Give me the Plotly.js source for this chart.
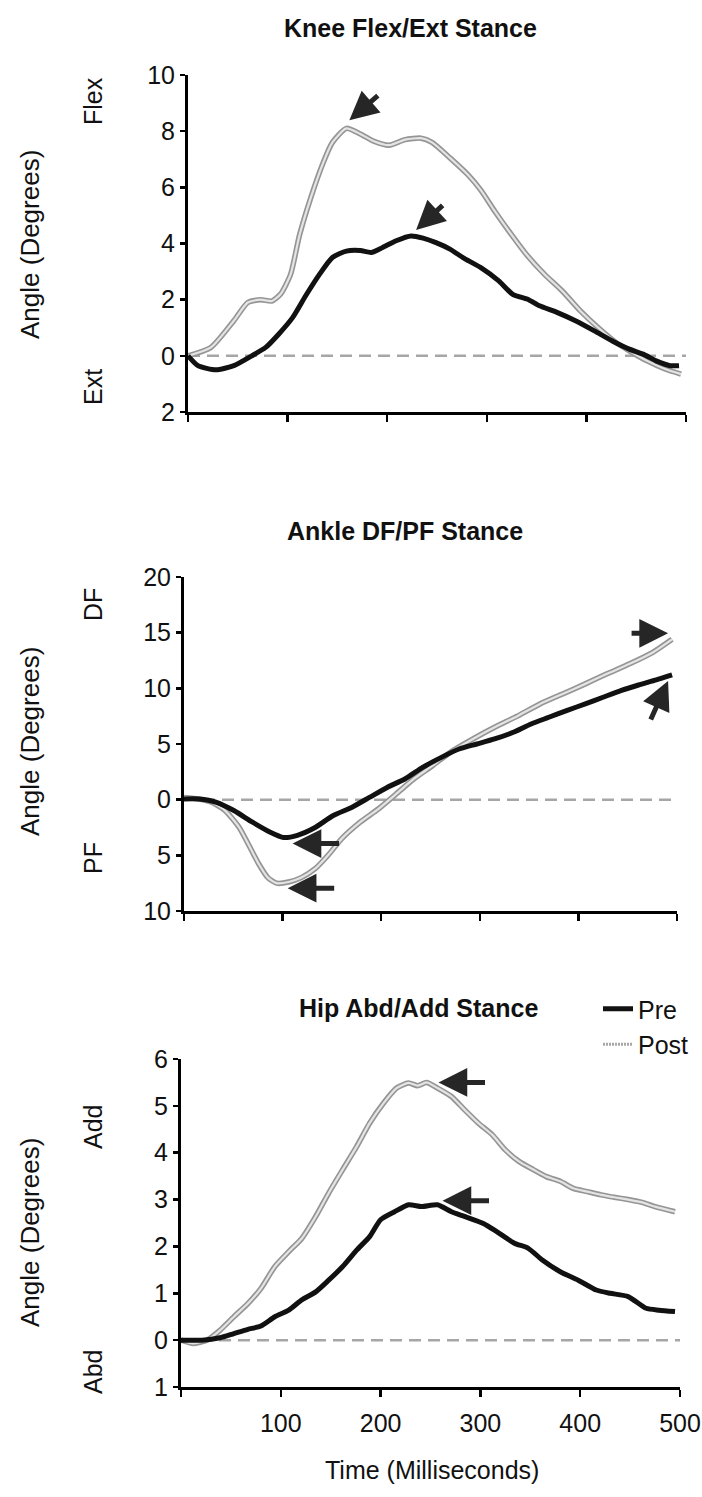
<!DOCTYPE html>
<html>
<head>
<meta charset="utf-8">
<script src="https://cdn.plot.ly/plotly-3.0.1.min.js"></script>
<style>
html,body{margin:0;padding:0;background:#fff;}
#chart{width:702px;height:1497px;}
</style>
</head>
<body>
<div id="chart"></div>
<script>
// ---------- DATA ----------
// Knee Flex/Ext stance (degrees; + = flexion, - = extension)
var kneeTimePre = [0,10,28,46,64,78,91,105,118,132,145,159,173,184,195,209,224,236,249,263,276,294,312,326,342,353,371,389,408,426,443,457,470,484,493];
var kneePre     = [0,-0.35,-0.5,-0.35,0,0.3,0.77,1.36,2.13,2.9,3.5,3.73,3.75,3.68,3.85,4.1,4.27,4.19,4.03,3.8,3.5,3.14,2.67,2.19,2.0,1.78,1.54,1.25,0.89,0.53,0.24,0.06,-0.18,-0.35,-0.35];
var kneeTimePost = [0,23,46,60,73,84,93,103,112,123,136,145,159,173,186,202,218,234,245,263,281,294,308,322,340,358,376,394,412,430,443,461,479,495];
var kneePost     = [0,0.3,1.25,1.9,2.0,1.95,2.2,2.9,4.3,5.6,6.9,7.6,8.1,7.9,7.65,7.5,7.7,7.75,7.6,7.05,6.45,5.9,5.15,4.45,3.6,2.9,2.3,1.6,1.0,0.47,0.18,-0.18,-0.47,-0.65];

// Ankle DF/PF stance (+ = dorsiflexion, - = plantarflexion)
var ankleTimePre = [0,15,33,51,69,87,101,115,133,151,170,188,206,224,242,261,279,297,315,334,352,370,388,407,425,443,461,479,495];
var anklePre     = [0.06,0.06,-0.24,-1.0,-2.0,-2.9,-3.4,-3.2,-2.5,-1.44,-0.7,0.2,1.1,1.86,2.9,3.8,4.55,5.0,5.45,6.05,6.8,7.4,8.0,8.6,9.2,9.8,10.3,10.75,11.2];
var ankleTimePost = [0,15,28,42,56,67,76,85,94,106,119,133,147,160,179,197,215,233,252,270,293,315,338,361,384,407,429,452,475,495];
var anklePost     = [0.2,0.06,-0.24,-1.0,-2.5,-4.3,-5.8,-7.0,-7.5,-7.4,-7.0,-6.2,-4.9,-3.5,-2.0,-0.84,0.5,1.86,3.05,4.25,5.45,6.5,7.5,8.6,9.5,10.4,11.3,12.2,13.2,14.4];

// Hip Abd/Add stance (+ = adduction, - = abduction)
var hipTimePre = [0,21,39,53,67,80,94,108,121,135,148,162,176,189,200,214,228,241,257,271,284,303,316,334,348,362,380,398,416,430,448,466,479,495];
var hipPre     = [0,0,0.05,0.14,0.23,0.3,0.5,0.64,0.86,1.03,1.28,1.57,1.92,2.21,2.57,2.74,2.89,2.85,2.89,2.74,2.64,2.49,2.32,2.07,1.96,1.71,1.46,1.28,1.07,1.0,0.93,0.68,0.64,0.61];
var hipTimePost = [0,12,26,39,53,67,80,94,108,121,135,148,162,176,189,203,216,228,237,246,257,271,284,298,312,325,339,353,366,380,393,407,421,434,448,462,475,495];
var hipPost     = [0,-0.07,0,0.21,0.5,0.78,1.1,1.57,1.89,2.17,2.64,3.14,3.64,4.13,4.63,5.06,5.38,5.49,5.43,5.5,5.38,5.2,4.92,4.63,4.38,4.06,3.81,3.64,3.49,3.39,3.24,3.17,3.1,3.05,3.0,2.94,2.85,2.74];

// zero reference line
var refTime  = [0, 500];
var refAngle = [0, 0];

// tick labels
var timeTicks      = [0,100,200,300,400,500];
var timeTickLabels = ['','100','200','300','400','500'];
var kneeTicks      = [-2,0,2,4,6,8,10];
var kneeTickLabels = ['2','0','2','4','6','8','10'];
var ankleTicks     = [-10,-5,0,5,10,15,20];
var ankleTickLabels= ['10','5','0','5','10','15','20'];
var hipTicks       = [-1,0,1,2,3,4,5,6];
var hipTickLabels  = ['1','0','1','2','3','4','5','6'];

var titles = ['Knee Flex/Ext Stance','Ankle DF/PF Stance','Hip Abd/Add Stance'];
var seriesNames = ['Pre','Post'];

// ---------- STYLE ----------
var FONT = 'Liberation Sans, Arial, Helvetica, sans-serif';
var W = 702, H = 1497;
function px(x){return x/W;}
function py(y){return 1 - y/H;}

var preLine  = {color:'#111111', width:5};
var postOuter= {color:'#959595', width:5.5};
var postInner= {color:'#e4e4e4', width:2.2};
var refLine  = {color:'#a6a6a6', width:2.5, dash:'12px,7px'};

var traces = [];
function addPanel(xa, ya, tPre, vPre, tPost, vPost, showLeg){
  traces.push({x:refTime, y:refAngle, xaxis:xa, yaxis:ya, mode:'lines', line:refLine, showlegend:false, hoverinfo:'skip'});
  traces.push({x:tPost, y:vPost, xaxis:xa, yaxis:ya, mode:'lines', line:Object.assign({shape:'spline', smoothing:0.6}, postOuter), name:seriesNames[1], legendgroup:'post', showlegend:false});
  traces.push({x:tPost, y:vPost, xaxis:xa, yaxis:ya, mode:'lines', line:Object.assign({shape:'spline', smoothing:0.6}, postInner), name:seriesNames[1], legendgroup:'post', showlegend:false});
  traces.push({x:tPre, y:vPre, xaxis:xa, yaxis:ya, mode:'lines', line:Object.assign({shape:'spline', smoothing:0.6}, preLine), name:seriesNames[0], legendgroup:'pre', showlegend:showLeg, legendrank:1});
  if(showLeg){
    traces.push({x:[null], y:[null], xaxis:xa, yaxis:ya, mode:'lines', line:{color:'#a8a8a8', width:3, dash:'2px,1px'}, name:seriesNames[1], legendgroup:'post', showlegend:true, legendrank:2});
  }
}
addPanel('x','y',  kneeTimePre, kneePre, kneeTimePost, kneePost, false);
addPanel('x2','y2',ankleTimePre, anklePre, ankleTimePost, anklePost, false);
addPanel('x3','y3',hipTimePre, hipPre, hipTimePost, hipPost, true);

function xaxis(domain, anchor, labels){
  return {domain:domain, anchor:anchor, range:[0,500], showgrid:false, zeroline:false,
    showline:true, linecolor:'#000', linewidth:3, ticks:'outside', ticklen:7, tickwidth:2.5, tickcolor:'#000',
    tickvals:timeTicks, ticktext:timeTickLabels, showticklabels:labels,
    tickfont:{family:FONT, size:25, color:'#111'}, ticklabelstandoff:5, fixedrange:true};
}
function yaxis(domain, anchor, range, tv, tt){
  return {domain:domain, anchor:anchor, range:range, showgrid:false, zeroline:false,
    showline:true, linecolor:'#000', linewidth:3, ticks:'outside', ticklen:5, tickwidth:2.5, tickcolor:'#000',
    tickvals:tv, ticktext:tt, tickfont:{family:FONT, size:25, color:'#111'}, ticklabelstandoff:0, fixedrange:true};
}

// arrows anchored to data features
function argmax(a){var k=0;for(var i=1;i<a.length;i++){if(a[i]>a[k])k=i;}return k;}
function argmin(a){var k=0;for(var i=1;i<a.length;i++){if(a[i]<a[k])k=i;}return k;}
var ann = [];
function arrow(xr, yr, x, y, ax, ay, xs, ys){
  ann.push({xref:xr, yref:yr, x:x, y:y, ax:ax, ay:ay, xshift:xs, yshift:ys, text:'', showarrow:true,
    arrowhead:2, arrowsize:1.15, arrowwidth:5, arrowcolor:'#262626', standoff:0});
}
var k;
k = argmax(kneePost); arrow('x','y', kneeTimePost[k], kneePost[k], 30, -26, 3, 8);
k = argmax(kneePre);  arrow('x','y', kneeTimePre[k], kneePre[k], 28, -26, 5, 6);
k = argmin(anklePre); arrow('x2','y2', ankleTimePre[k], anklePre[k], 48, 0, 9, -6);
k = argmin(anklePost);arrow('x2','y2', ankleTimePost[k], anklePost[k], 48, 0, 11, -5);
k = anklePost.length-1; arrow('x2','y2', ankleTimePost[k], anklePost[k], -38, 0, -4, 6);
k = anklePre.length-1;  arrow('x2','y2', ankleTimePre[k], anklePre[k], -18, 40, -4, -6);
k = argmax(hipPost);  arrow('x3','y3', hipTimePost[k], hipPost[k], 48, 0, 12, 0);
k = hipPre.length-1-argmax(hipPre.slice().reverse()); arrow('x3','y3', hipTimePre[k], hipPre[k], 48, 0, 5, 4);

function txt(t, x, y, size, bold, angle){
  ann.push({xref:'paper', yref:'paper', x:px(x), y:py(y), xanchor:'center', yanchor:'middle', text:bold?'<b>'+t+'</b>':t,
    showarrow:false, textangle:angle||0, font:{family:FONT, size:size, color:'#111'}});
}
txt(titles[0], 410, 28, 25, true);
txt(titles[1], 405, 531, 25, true);
txt(titles[2], 418, 1008, 25, true);
txt('Angle (Degrees)', 30, 245, 26, false, -90);
txt('Angle (Degrees)', 30, 742, 26, false, -90);
txt('Angle (Degrees)', 30, 1233, 26, false, -90);
txt('Flex', 93, 101, 25, false, -90);
txt('Ext', 93, 387, 25, false, -90);
txt('DF', 93, 605, 25, false, -90);
txt('PF', 93, 858, 25, false, -90);
txt('Add', 93, 1127, 25, false, -90);
txt('Abd', 93, 1372, 25, false, -90);
txt('Time (Milliseconds)', 432, 1470, 25, false);

var layout = {
  width:W, height:H, margin:{l:0,r:0,t:0,b:0}, paper_bgcolor:'#fff', plot_bgcolor:'#fff',
  font:{family:FONT, color:'#111'},
  showlegend:true,
  legend:{x:px(598), y:py(986), xanchor:'left', yanchor:'top', bgcolor:'rgba(0,0,0,0)',
    font:{family:FONT, size:25, color:'#111'}, itemwidth:30, tracegroupgap:0, traceorder:'normal'},
  xaxis: xaxis([px(188), px(686)], 'y', false),
  yaxis: yaxis([py(412), py(75)], 'x', [-2,10], kneeTicks, kneeTickLabels),
  xaxis2: xaxis([px(184), px(677)], 'y2', false),
  yaxis2: yaxis([py(911), py(577)], 'x2', [-10,20], ankleTicks, ankleTickLabels),
  xaxis3: xaxis([px(181), px(680)], 'y3', true),
  yaxis3: yaxis([py(1387), py(1059)], 'x3', [-1,6], hipTicks, hipTickLabels),
  annotations: ann
};
Plotly.newPlot('chart', traces, layout, {staticPlot:true, displayModeBar:false});
</script>
</body>
</html>
